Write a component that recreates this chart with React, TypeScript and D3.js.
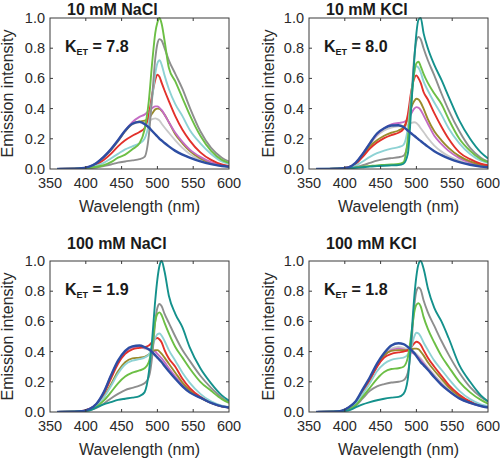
import React from "react";
import * as d3 from "d3";

// Wavelength grid (nm) shared by every spectrum
const WAVELENGTH = [360, 390, 405, 415, 425, 435, 445, 455, 465, 475, 482, 488, 493, 497, 500, 503, 506, 510, 516, 525, 535, 545, 560, 575, 590, 600];

const X_TICKS = [350, 400, 450, 500, 550, 600];
const Y_TICKS = [0, 0.2, 0.4, 0.6, 0.8, 1.0];

const TITLES = ["10 mM NaCl", "10 mM KCl", "100 mM NaCl", "100 mM KCl"];
const KET_VALUES = ["7.8", "8.0", "1.9", "1.8"];

// 10 mM NaCl
const NACL10_LIGHTGRAY = [0, 0.003, 0.014, 0.038, 0.077, 0.125, 0.185, 0.25, 0.295, 0.31, 0.31, 0.32, 0.33, 0.335, 0.33, 0.32, 0.3, 0.275, 0.24, 0.19, 0.14, 0.1, 0.06, 0.035, 0.02, 0.015];
const NACL10_MAGENTA = [0, 0.003, 0.015, 0.04, 0.08, 0.13, 0.19, 0.255, 0.31, 0.345, 0.36, 0.385, 0.405, 0.415, 0.415, 0.405, 0.39, 0.36, 0.31, 0.24, 0.18, 0.13, 0.08, 0.045, 0.025, 0.018];
const NACL10_OLIVE = [0, 0.003, 0.014, 0.038, 0.077, 0.125, 0.185, 0.25, 0.3, 0.315, 0.32, 0.335, 0.37, 0.395, 0.4, 0.398, 0.385, 0.36, 0.31, 0.23, 0.17, 0.12, 0.07, 0.04, 0.022, 0.016];
const NACL10_RED = [0, 0.003, 0.012, 0.03, 0.06, 0.1, 0.15, 0.19, 0.22, 0.245, 0.27, 0.36, 0.5, 0.59, 0.625, 0.61, 0.57, 0.52, 0.45, 0.35, 0.26, 0.19, 0.11, 0.06, 0.03, 0.02];
const NACL10_CYAN = [0, 0.003, 0.01, 0.022, 0.04, 0.07, 0.1, 0.13, 0.15, 0.17, 0.2, 0.3, 0.48, 0.63, 0.7, 0.72, 0.69, 0.62, 0.53, 0.43, 0.35, 0.26, 0.17, 0.1, 0.05, 0.035];
const NACL10_GRAY = [0, 0.002, 0.006, 0.01, 0.02, 0.03, 0.042, 0.05, 0.057, 0.065, 0.08, 0.22, 0.5, 0.73, 0.83, 0.86, 0.85, 0.8, 0.72, 0.63, 0.53, 0.41, 0.25, 0.14, 0.075, 0.05];
const NACL10_GREEN = [0, 0.003, 0.008, 0.015, 0.025, 0.045, 0.075, 0.095, 0.13, 0.17, 0.26, 0.45, 0.72, 0.9, 0.97, 1.0, 0.96, 0.85, 0.67, 0.58, 0.47, 0.36, 0.22, 0.12, 0.06, 0.04];
const NACL10_BLUE = [0, 0.003, 0.015, 0.04, 0.08, 0.13, 0.19, 0.255, 0.3, 0.312, 0.298, 0.275, 0.25, 0.23, 0.215, 0.2, 0.188, 0.172, 0.15, 0.12, 0.095, 0.075, 0.05, 0.032, 0.02, 0.015];

// 10 mM KCl
const KCL10_LIGHTGRAY = [0, 0.002, 0.01, 0.038, 0.095, 0.16, 0.22, 0.255, 0.275, 0.283, 0.285, 0.29, 0.305, 0.31, 0.305, 0.29, 0.27, 0.245, 0.205, 0.155, 0.115, 0.085, 0.055, 0.032, 0.018, 0.013];
const KCL10_MAGENTA = [0, 0.002, 0.01, 0.04, 0.1, 0.17, 0.23, 0.27, 0.295, 0.305, 0.31, 0.33, 0.37, 0.4, 0.41, 0.405, 0.39, 0.355, 0.3, 0.22, 0.165, 0.12, 0.072, 0.042, 0.024, 0.018];
const KCL10_OLIVE = [0, 0.002, 0.01, 0.035, 0.09, 0.15, 0.19, 0.22, 0.24, 0.255, 0.275, 0.33, 0.41, 0.45, 0.465, 0.46, 0.44, 0.4, 0.33, 0.25, 0.19, 0.14, 0.085, 0.05, 0.028, 0.02];
const KCL10_RED = [0, 0.002, 0.01, 0.033, 0.08, 0.135, 0.175, 0.205, 0.225, 0.24, 0.265, 0.36, 0.52, 0.6, 0.62, 0.6, 0.57, 0.51, 0.46, 0.37, 0.28, 0.2, 0.11, 0.065, 0.035, 0.025];
const KCL10_CYAN = [0, 0.002, 0.008, 0.022, 0.05, 0.08, 0.105, 0.122, 0.135, 0.145, 0.16, 0.27, 0.5, 0.64, 0.68, 0.67, 0.64, 0.58, 0.52, 0.44, 0.36, 0.27, 0.17, 0.1, 0.055, 0.04];
const KCL10_GRAY = [0, 0.002, 0.006, 0.012, 0.025, 0.04, 0.055, 0.065, 0.072, 0.078, 0.088, 0.17, 0.47, 0.74, 0.85, 0.875, 0.86, 0.8, 0.72, 0.62, 0.5, 0.39, 0.25, 0.14, 0.075, 0.05];
const KCL10_GREEN = [0, 0.002, 0.005, 0.01, 0.016, 0.02, 0.024, 0.027, 0.03, 0.033, 0.045, 0.2, 0.46, 0.64, 0.7, 0.71, 0.68, 0.63, 0.57, 0.5, 0.43, 0.33, 0.2, 0.12, 0.065, 0.045];
const KCL10_TEAL = [0, 0.002, 0.004, 0.008, 0.012, 0.016, 0.019, 0.022, 0.024, 0.026, 0.035, 0.1, 0.42, 0.72, 0.9, 0.99, 1.0, 0.9, 0.8, 0.69, 0.59, 0.48, 0.32, 0.2, 0.11, 0.07];
const KCL10_BLUE = [0, 0.002, 0.01, 0.04, 0.1, 0.17, 0.235, 0.27, 0.288, 0.29, 0.278, 0.255, 0.235, 0.22, 0.208, 0.196, 0.185, 0.17, 0.148, 0.118, 0.092, 0.07, 0.045, 0.028, 0.016, 0.012];

// 100 mM NaCl
const NACL100_LIGHTGRAY = [0, 0.003, 0.019, 0.052, 0.125, 0.23, 0.33, 0.395, 0.425, 0.43, 0.42, 0.41, 0.395, 0.38, 0.365, 0.35, 0.335, 0.31, 0.275, 0.225, 0.175, 0.133, 0.095, 0.06, 0.037, 0.03];
const NACL100_MAGENTA = [0, 0.003, 0.02, 0.055, 0.13, 0.24, 0.335, 0.4, 0.43, 0.435, 0.425, 0.415, 0.41, 0.4, 0.385, 0.37, 0.355, 0.33, 0.29, 0.235, 0.18, 0.135, 0.095, 0.06, 0.037, 0.03];
const NACL100_OLIVE = [0, 0.003, 0.018, 0.045, 0.1, 0.18, 0.27, 0.33, 0.355, 0.36, 0.365, 0.38, 0.4, 0.41, 0.41, 0.4, 0.385, 0.36, 0.32, 0.26, 0.195, 0.145, 0.095, 0.06, 0.037, 0.03];
const NACL100_RED = [0, 0.003, 0.02, 0.05, 0.12, 0.22, 0.32, 0.385, 0.415, 0.425, 0.43, 0.44, 0.465, 0.485, 0.49, 0.48, 0.46, 0.41, 0.355, 0.3, 0.22, 0.16, 0.1, 0.062, 0.038, 0.03];
const NACL100_CYAN = [0, 0.003, 0.017, 0.042, 0.095, 0.17, 0.255, 0.315, 0.34, 0.35, 0.36, 0.38, 0.43, 0.49, 0.515, 0.52, 0.505, 0.47, 0.41, 0.34, 0.26, 0.195, 0.12, 0.07, 0.042, 0.033];
const NACL100_GREEN = [0, 0.003, 0.015, 0.035, 0.075, 0.13, 0.19, 0.235, 0.26, 0.275, 0.29, 0.33, 0.45, 0.6, 0.65, 0.66, 0.64, 0.59, 0.52, 0.43, 0.36, 0.29, 0.2, 0.14, 0.085, 0.06];
const NACL100_GRAY = [0, 0.003, 0.012, 0.028, 0.055, 0.09, 0.12, 0.145, 0.16, 0.175, 0.19, 0.23, 0.38, 0.6, 0.69, 0.715, 0.7, 0.65, 0.59, 0.5, 0.41, 0.34, 0.24, 0.16, 0.095, 0.065];
const NACL100_TEAL = [0, 0.003, 0.01, 0.03, 0.05, 0.065, 0.08, 0.088, 0.095, 0.105, 0.13, 0.26, 0.5, 0.74, 0.88, 0.97, 1.0, 0.93, 0.77, 0.65, 0.56, 0.43, 0.29, 0.19, 0.11, 0.075];
const NACL100_BLUE = [0, 0.003, 0.02, 0.055, 0.13, 0.24, 0.34, 0.405, 0.435, 0.44, 0.43, 0.415, 0.395, 0.375, 0.36, 0.345, 0.33, 0.305, 0.27, 0.22, 0.17, 0.13, 0.095, 0.06, 0.037, 0.03];

// 100 mM KCl
const KCL100_LIGHTGRAY = [0, 0.003, 0.028, 0.068, 0.145, 0.225, 0.31, 0.38, 0.42, 0.43, 0.425, 0.415, 0.405, 0.395, 0.385, 0.37, 0.355, 0.33, 0.295, 0.245, 0.195, 0.15, 0.095, 0.062, 0.04, 0.032];
const KCL100_MAGENTA = [0, 0.003, 0.027, 0.066, 0.14, 0.22, 0.3, 0.37, 0.41, 0.42, 0.415, 0.405, 0.395, 0.385, 0.375, 0.36, 0.345, 0.32, 0.285, 0.235, 0.185, 0.142, 0.09, 0.06, 0.04, 0.032];
const KCL100_OLIVE = [0, 0.003, 0.027, 0.065, 0.14, 0.22, 0.305, 0.375, 0.405, 0.41, 0.41, 0.41, 0.415, 0.42, 0.42, 0.415, 0.4, 0.375, 0.33, 0.275, 0.22, 0.165, 0.105, 0.065, 0.042, 0.033];
const KCL100_RED = [0, 0.003, 0.025, 0.06, 0.13, 0.21, 0.3, 0.36, 0.385, 0.395, 0.4, 0.41, 0.43, 0.455, 0.465, 0.46, 0.445, 0.41, 0.36, 0.3, 0.24, 0.18, 0.115, 0.07, 0.045, 0.035];
const KCL100_CYAN = [0, 0.003, 0.022, 0.055, 0.12, 0.19, 0.27, 0.32, 0.345, 0.355, 0.36, 0.38, 0.43, 0.5, 0.525, 0.52, 0.5, 0.46, 0.41, 0.34, 0.28, 0.22, 0.14, 0.085, 0.05, 0.04];
const KCL100_GREEN = [0, 0.003, 0.018, 0.045, 0.1, 0.16, 0.22, 0.265, 0.285, 0.29, 0.3, 0.36, 0.52, 0.66, 0.71, 0.72, 0.7, 0.63, 0.55, 0.46, 0.37, 0.3, 0.2, 0.13, 0.08, 0.055];
const KCL100_GRAY = [0, 0.003, 0.015, 0.04, 0.09, 0.14, 0.17, 0.185, 0.195, 0.2, 0.21, 0.26, 0.45, 0.7, 0.8, 0.825, 0.81, 0.74, 0.66, 0.57, 0.47, 0.38, 0.26, 0.165, 0.1, 0.07];
const KCL100_TEAL = [0, 0.003, 0.01, 0.03, 0.05, 0.065, 0.078, 0.088, 0.095, 0.1, 0.12, 0.22, 0.5, 0.76, 0.9, 0.98, 1.0, 0.95, 0.82, 0.69, 0.6, 0.49, 0.31, 0.2, 0.11, 0.07];
const KCL100_BLUE = [0, 0.003, 0.03, 0.07, 0.15, 0.23, 0.32, 0.39, 0.44, 0.455, 0.45, 0.43, 0.41, 0.39, 0.37, 0.35, 0.33, 0.31, 0.28, 0.23, 0.18, 0.14, 0.09, 0.06, 0.04, 0.03];

const COLORS: Record<string, string> = {
  lightgray: "#c9c9c9",
  magenta: "#c46cc4",
  olive: "#9a8b2c",
  red: "#e2312b",
  cyan: "#8ed2d4",
  gray: "#8e8e8e",
  green: "#6cbf45",
  teal: "#14918c",
  blue: "#2d4ea3",
};

const PANEL_SERIES = [
  [
    ["lightgray", NACL10_LIGHTGRAY], ["olive", NACL10_OLIVE], ["magenta", NACL10_MAGENTA], ["red", NACL10_RED],
    ["cyan", NACL10_CYAN], ["gray", NACL10_GRAY], ["green", NACL10_GREEN], ["blue", NACL10_BLUE],
  ],
  [
    ["lightgray", KCL10_LIGHTGRAY], ["magenta", KCL10_MAGENTA], ["olive", KCL10_OLIVE], ["red", KCL10_RED],
    ["cyan", KCL10_CYAN], ["gray", KCL10_GRAY], ["green", KCL10_GREEN], ["teal", KCL10_TEAL], ["blue", KCL10_BLUE],
  ],
  [
    ["lightgray", NACL100_LIGHTGRAY], ["magenta", NACL100_MAGENTA], ["olive", NACL100_OLIVE], ["red", NACL100_RED],
    ["cyan", NACL100_CYAN], ["gray", NACL100_GRAY], ["green", NACL100_GREEN], ["teal", NACL100_TEAL], ["blue", NACL100_BLUE],
  ],
  [
    ["lightgray", KCL100_LIGHTGRAY], ["magenta", KCL100_MAGENTA], ["olive", KCL100_OLIVE], ["red", KCL100_RED],
    ["cyan", KCL100_CYAN], ["gray", KCL100_GRAY], ["green", KCL100_GREEN], ["teal", KCL100_TEAL], ["blue", KCL100_BLUE],
  ],
] as [string, number[]][][];

// layout
const PANEL_W = 179;
const PANEL_H = 151;
const ORIGINS = [
  [50, 18],
  [309, 18],
  [50, 261],
  [309, 261],
];
const TITLE_BASELINE = [14.5, 14.5, 249, 249];
const YLABEL_OFFSET = [-37, -35, -37, -35];
const FONT = "'Liberation Sans', Arial, Helvetica, sans-serif";

function Panel({ idx }: { idx: number }) {
  const [ox, oy] = ORIGINS[idx];
  const x = d3.scaleLinear().domain([350, 600]).range([0, PANEL_W]);
  const y = d3.scaleLinear().domain([0, 1]).range([PANEL_H, 0]);
  const line = d3
    .line<number>()
    .x((_, i) => x(WAVELENGTH[i]))
    .y((d) => y(d))
    .curve(d3.curveMonotoneX);
  const clipId = `clip${idx}`;
  const tick = 3;
  return (
    <g transform={`translate(${ox},${oy})`}>
      <defs>
        <clipPath id={clipId}>
          <rect x={0} y={-2} width={PANEL_W} height={PANEL_H + 2} />
        </clipPath>
      </defs>
      <g clipPath={`url(#${clipId})`}>
        {PANEL_SERIES[idx].map(([name, vals]) => (
          <path
            key={name}
            d={line(vals) || ""}
            fill="none"
            stroke={COLORS[name]}
            strokeWidth={name === "blue" ? 2.4 : 1.9}
            strokeLinejoin="round"
          />
        ))}
      </g>
      <rect x={0} y={0} width={PANEL_W} height={PANEL_H} fill="none" stroke="#3a3a3a" strokeWidth={1} />
      {X_TICKS.slice(1, -1).map((t) => (
        <g key={"xt" + t}>
          <line x1={x(t)} x2={x(t)} y1={PANEL_H} y2={PANEL_H - tick} stroke="#3a3a3a" />
          <line x1={x(t)} x2={x(t)} y1={0} y2={tick} stroke="#3a3a3a" />
        </g>
      ))}
      {Y_TICKS.slice(1, -1).map((t) => (
        <g key={"yt" + t}>
          <line x1={0} x2={tick} y1={y(t)} y2={y(t)} stroke="#3a3a3a" />
          <line x1={PANEL_W} x2={PANEL_W - tick} y1={y(t)} y2={y(t)} stroke="#3a3a3a" />
        </g>
      ))}
      {X_TICKS.map((t) => (
        <text key={"xl" + t} x={x(t)} y={PANEL_H + 19} textAnchor="middle" fontSize={14.5} fill="#2a2a2a" fontFamily={FONT}>
          {t}
        </text>
      ))}
      {Y_TICKS.map((t) => (
        <text key={"yl" + t} x={-5} y={y(t) + 5} textAnchor="end" fontSize={14.5} fill="#2a2a2a" fontFamily={FONT}>
          {t.toFixed(1)}
        </text>
      ))}
      <text x={PANEL_W / 2} y={PANEL_H + 43} textAnchor="middle" fontSize={16} fill="#2a2a2a" fontFamily={FONT}>
        Wavelength (nm)
      </text>
      <text
        transform={`translate(${YLABEL_OFFSET[idx]},${PANEL_H / 2}) rotate(-90)`}
        textAnchor="middle"
        fontSize={16}
        fill="#2a2a2a"
        fontFamily={FONT}
      >
        Emission intensity
      </text>
      <text x={17} y={TITLE_BASELINE[idx] - oy} fontSize={16} fontWeight="bold" fill="#1a1a1a" fontFamily={FONT}>
        {TITLES[idx]}
      </text>
      <text x={15} y={34} fontSize={16} fontWeight="bold" fill="#1a1a1a" fontFamily={FONT}>
        K
        <tspan fontSize={9} dy={3}>ET</tspan>
        <tspan dy={-3}>{" = " + KET_VALUES[idx]}</tspan>
      </text>
    </g>
  );
}

export default function App() {
  return (
    <div style={{ position: "absolute", left: 0, top: 0, width: 500, height: 458, background: "#fff" }}>
      <svg width={500} height={458} viewBox="0 0 500 458" style={{ display: "block" }}>
        <rect width={500} height={458} fill="#fff" />
        {[0, 1, 2, 3].map((i) => (
          <Panel key={i} idx={i} />
        ))}
      </svg>
    </div>
  );
}
